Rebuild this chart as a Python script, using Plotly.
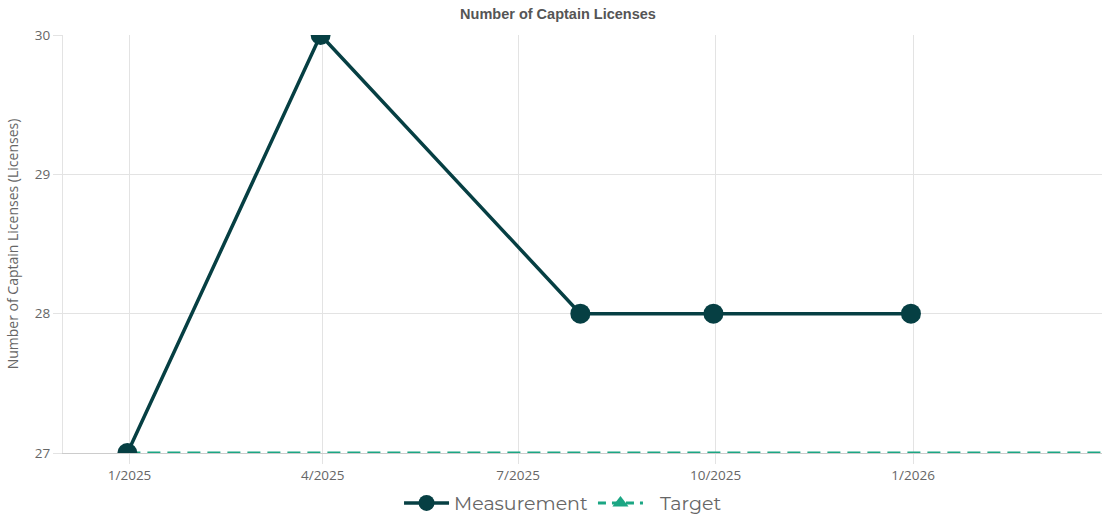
import plotly.graph_objects as go

# Data
meas_dates = ["2024-12-31", "2025-03-31", "2025-07-30", "2025-09-30", "2025-12-31"]
meas_values = [27, 30, 28, 28, 28]
target_dates = ["2024-12-31", "2026-03-31"]
target_values = [27, 27]
x_range = ["2024-12-01", "2026-03-30"]
y_ticks = [27, 28, 29, 30]

MEAS_COLOR = "#063f43"
TARGET_COLOR = "#1ba683"
GRID = "#e3e3e3"
TICK_FONT = "Open Sans, Roboto, Arial"

fig = go.Figure()

fig.add_trace(go.Scatter(
    x=target_dates, y=target_values, mode="lines",
    line=dict(color=TARGET_COLOR, width=3, dash="13px,7px"),
    showlegend=False, hoverinfo="skip"))

fig.add_trace(go.Scatter(
    x=meas_dates, y=meas_values, mode="lines+markers", name="Measurement",
    line=dict(color=MEAS_COLOR, width=3.5),
    marker=dict(color=MEAS_COLOR, size=20), cliponaxis=True))

fig.add_trace(go.Scatter(
    x=[None], y=[None], mode="lines+markers", name="\u2002\u2009Target",
    line=dict(color=TARGET_COLOR, width=3, dash="8px,6px"),
    marker=dict(color=TARGET_COLOR, symbol="triangle-up", size=14)))

fig.update_layout(
    width=1104, height=516,
    margin=dict(l=63, r=2, t=35, b=63, autoexpand=False),
    paper_bgcolor="white", plot_bgcolor="white",
    title=dict(text="<b>Number of Captain Licenses</b>", xref="container", x=0.5054,
               xanchor="center", yref="container", y=0.973, yanchor="middle",
               font=dict(family="Liberation Sans, Arial", size=14.5, color="#555555")),
    font=dict(family=TICK_FONT, color="#666666"),
    legend=dict(orientation="h", x=0.51, xref="container", xanchor="center",
                y=0.025, yref="container", yanchor="middle",
                font=dict(family="Montserrat, Lato, Roboto", size=19, color="#666666"),
                itemwidth=45),
    xaxis=dict(
        type="date", range=x_range, tick0="2025-01-01", dtick="M3",
        tickformat="%-m/%Y", showgrid=True, gridcolor=GRID, gridwidth=1,
        ticks="outside", ticklen=10, tickcolor=GRID,
        showline=True, linecolor="#cccccc", linewidth=1,
        tickfont=dict(family=TICK_FONT, size=13.5, color="#666666"), zeroline=False),
    yaxis=dict(
        range=[27, 30], tickvals=y_ticks, showgrid=True, gridcolor=GRID, gridwidth=1,
        ticks="outside", ticklen=9, tickcolor=GRID,
        showline=True, linecolor=GRID, linewidth=1,
        tickfont=dict(family=TICK_FONT, size=13.5, color="#666666"), zeroline=False,
        title=dict(text="Number of Captain Licenses (Licenses)",
                   font=dict(family=TICK_FONT, size=14, color="#666666"), standoff=12)),
)

fig.write_html("out.html")
